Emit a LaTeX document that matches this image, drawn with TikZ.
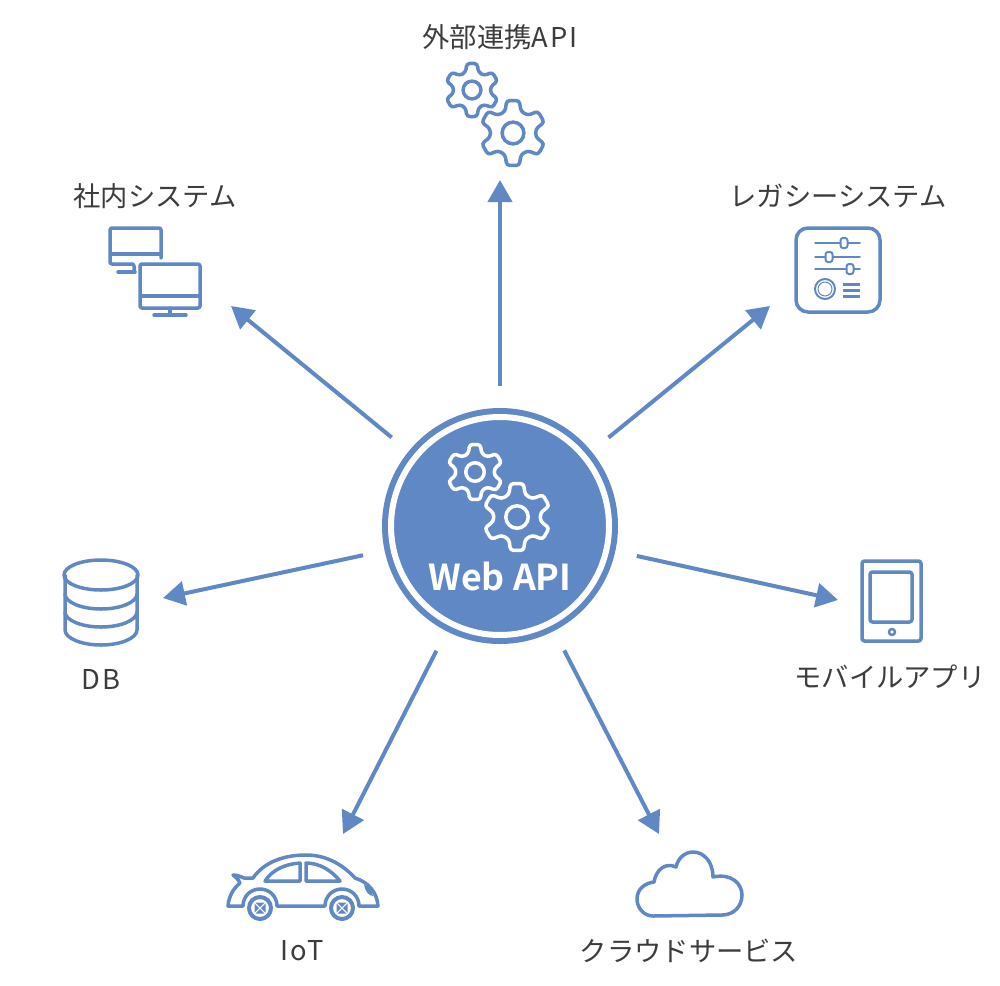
\documentclass[tikz,border=0pt]{standalone}
\usepackage{fontspec}
\setmainfont{Noto Sans CJK JP}[BoldFont={Noto Sans CJK JP Bold}]
\usetikzlibrary{arrows.meta,positioning}

\definecolor{apiblue}{HTML}{6088C5}
\definecolor{labelgray}{HTML}{3C3C3C}

\newcommand{\latinword}[1]{{\addfontfeatures{LetterSpace=7}#1}}

\tikzset{
	hubdisc/.style={circle, fill=apiblue, minimum size=236pt, inner sep=0pt, outer sep=0pt},
	flow/.style={draw=apiblue, line width=4pt, shorten <=22pt, -{Triangle[length=22pt,width=24pt]}},
	lbl/.style={text=labelgray, font=\fontsize{27.3}{27.3}\selectfont, inner sep=0pt, anchor=center},
	icon/.style={draw=apiblue, line width=3.5pt, line join=round, line cap=round},
	gear/.pic={
		\draw[pic actions, rounded corners=3pt, line width=3.5pt] (79:1) -- (101:1) -- (110:.7) -- (130:.7)
			foreach \a in {150,210,...,390} { -- (\a-11:1) -- (\a+11:1) -- (\a+20:.7) -- (\a+40:.7) } -- cycle;
		\draw[pic actions, line width=3.5pt] (0,0) circle (.33);
	},
}

\begin{document}
\begin{tikzpicture}[x=1pt, y=-1pt]
	\useasboundingbox (0,0) rectangle (1000,985);

	\node [hubdisc] (hub) at (500,526) {};
	\draw [white, line width=6pt] (hub.center) circle (109);
	\node [below=50pt of hub.center, text=white, inner sep=0pt, font=\fontsize{35.7}{35.7}\selectfont\bfseries, anchor=center] (webapi) {Web API};
	\pic [draw=white, scale=28] (hubgeara) at (475,472) {gear};
	\pic [draw=white, scale=34] (hubgearb) at (517,517) {gear};

	\coordinate [above=346pt of hub.center] (tipn);
	\coordinate [above left=220pt and 269pt of hub.center] (tipnw);
	\coordinate [above right=220pt and 270pt of hub.center] (tipne);
	\coordinate [below left=72pt and 337pt of hub.center] (tipw);
	\coordinate [below right=74pt and 338pt of hub.center] (tipe);
	\coordinate [below left=308pt and 157pt of hub.center] (tipsw);
	\coordinate [below right=308pt and 159pt of hub.center] (tipse);

	\foreach \tip in {tipn,tipnw,tipne,tipw,tipe,tipsw,tipse}
		\draw [flow] (hub) -- (\tip);

	\node [above=143pt of tipn, lbl] (gaibu) {外部連携\latinword{API}};
	\node [above left=110pt and 76pt of tipnw, lbl] (shanai) {社内システム};
	\node [above right=110pt and 68pt of tipne, lbl] (legacy) {レガシーシステム};
	\node [below left=81pt and 62pt of tipw, lbl] (db) {\latinword{DB}};
	\node [below right=77pt and 52pt of tipe, lbl] (mobile) {モバイルアプリ};
	\node [below left=117pt and 41pt of tipsw, lbl] (iot) {\latinword{IoT}};
	\node [below right=117pt and 30pt of tipse, lbl] (cloud) {クラウドサービス};

	\pic [draw=apiblue, scale=27] (extgeara) at (472,90) {gear};
	\pic [draw=apiblue, scale=33] (extgearb) at (513,133) {gear};

	\draw [icon, rounded corners=2pt] (161,258) -- (161,228) -- (110,228) -- (110,264) -- (134,264) -- (134,272);
	\draw [icon] (111,254) -- (160,254) (118,272) -- (135,272);
	\draw [icon, rounded corners=2pt] (140,264) rectangle (200,308);
	\draw [icon] (141,296) -- (199,296) (170,308) -- (170,315) (154,315) -- (186,315);

	\draw [icon, rounded corners=12pt] (796,228) rectangle (880,312);
	\draw [icon, line width=1.5pt] (815,243) -- (860,243) (815,257) -- (860,257) (815,269) -- (860,269);
	\foreach \kx/\ky in {844/243, 829/257, 850/269}
		\draw [icon, line width=2pt, fill=white, rounded corners=2.5pt] (\kx-3.5,\ky-5) rectangle (\kx+3.5,\ky+5);
	\draw [icon, line width=2pt] (825,289) circle (10);
	\draw [icon, line width=1pt] (825,289) circle (7);
	\draw [icon, line width=3pt, line cap=butt] (843,284) -- (860,284) (843,290) -- (860,290) (843,296) -- (860,296);

	\draw [icon] (65,575) -- (65,630) .. controls (65,638) and (81,645) .. (101,645) .. controls (121,645) and (137,638) .. (137,630) -- (137,575);
	\draw [icon] (101,575) ellipse (37 and 15);
	\draw [icon] (65,594) .. controls (65,602) and (81,609) .. (101,609) .. controls (121,609) and (137,602) .. (137,594);
	\draw [icon] (65,612) .. controls (65,620) and (81,627) .. (101,627) .. controls (121,627) and (137,620) .. (137,612);

	\draw [icon, rounded corners=2.5pt] (862,561) rectangle (921,641);
	\draw [icon, rounded corners=2.5pt] (870,572) rectangle (912,622);
	\draw [icon, line width=2.5pt] (892,632) circle (3);

	\draw [icon] (228,906) .. controls (229,896) and (233,889) .. (240,883) .. controls (238,879) and (236,877) .. (233,875)
		.. controls (238,875) and (241,877) .. (244,878) -- (253,878)
		.. controls (264,862) and (284,855) .. (306,855) .. controls (328,855) and (344,866) .. (355,878)
		.. controls (368,882) and (377,892) .. (378,906) -- (359,906)
		.. controls (359,896) and (351,889) .. (342,889) .. controls (333,889) and (325,896) .. (325,906)
		-- (277,906) .. controls (277,896) and (269,889) .. (260,889) .. controls (251,889) and (243,896) .. (243,906) -- cycle;
	\draw [icon] (265,881) .. controls (272,870) and (285,864) .. (300,863) -- (300,881) -- cycle;
	\draw [icon] (306,863) .. controls (320,863) and (332,871) .. (340,881) -- (306,881) -- cycle;
	\fill [apiblue] (364,885) .. controls (368,886) and (372,890) .. (373,896) .. controls (369,896) and (365,891) .. (364,885) -- cycle;
	\foreach \wx in {260,342} {
		\draw [icon, line width=4pt, fill=white] (\wx,908) circle (11);
		\fill [apiblue] (\wx-4.5,902.5) -- (\wx+4.5,902.5) -- (\wx,907) -- cycle;
		\fill [apiblue] (\wx-4.5,913.5) -- (\wx+4.5,913.5) -- (\wx,909) -- cycle;
		\fill [apiblue] (\wx-5.5,903.5) -- (\wx-5.5,912.5) -- (\wx-1,908) -- cycle;
		\fill [apiblue] (\wx+5.5,903.5) -- (\wx+5.5,912.5) -- (\wx+1,908) -- cycle;
	}

	\draw [icon] (653,916) -- (722,915) .. controls (734,915) and (742,906) .. (742,895)
		.. controls (742,884) and (732,873) .. (713,877) .. controls (713,862) and (704,852) .. (693,852)
		.. controls (685,852) and (678,858) .. (676,867) .. controls (665,862) and (656,870) .. (654,882)
		.. controls (645,883) and (637,889) .. (637,899) .. controls (637,908) and (644,916) .. (653,916) -- cycle;
\end{tikzpicture}
\end{document}
